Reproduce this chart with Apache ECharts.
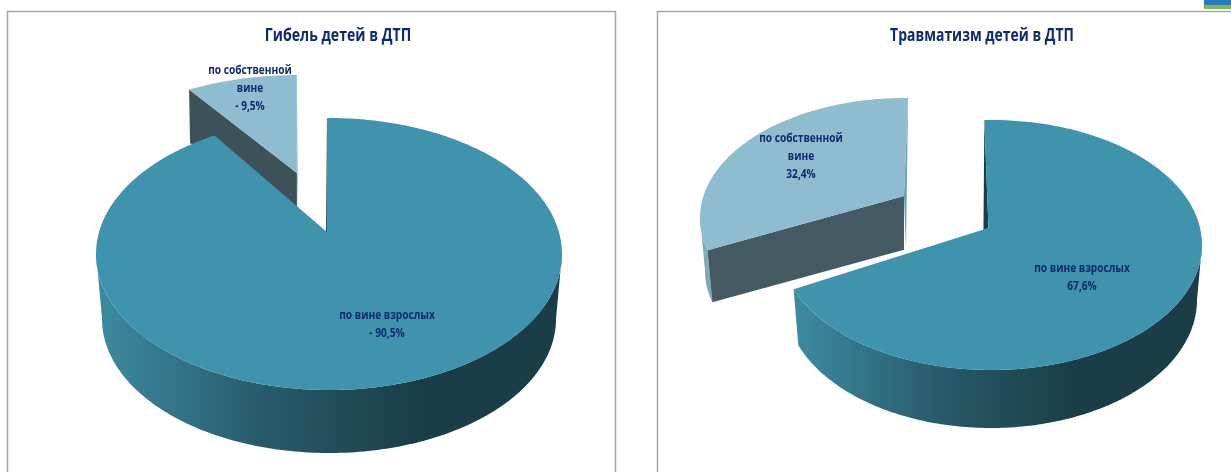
<!DOCTYPE html>
<html>
<head>
<meta charset="utf-8">
<style>
html, body { margin: 0; padding: 0; background: #fff; }
#main { width: 1231px; height: 472px; }
</style>
<script src="https://cdn.jsdelivr.net/npm/echarts@6/dist/echarts.min.js"></script>
</head>
<body>
<div id="main"></div>
<script>
// данные
var categories = ['по вине взрослых', 'по собственной вине'];
var deathValues = [90.5, 9.5];
var injuryValues = [67.6, 32.4];
var chartTitles = ['Гибель детей в ДТП', 'Травматизм детей в ДТП'];
var deathLabels = [['по вине взрослых', '- 90,5%'], ['по собственной', 'вине', '- 9,5%']];
var injuryLabels = [['по вине взрослых', '67,6%'], ['по собственной', 'вине', '32,4%']];

var TEXT_COLOR = '#0e2a6e';
var FONT = '"Open Sans", sans-serif';

// геометрия псевдо-3D: верхний и нижний эллипс, смещение вершины
var deathLayout = [
    { cx: 329, cy: 254, rx: 233, ry: 136, cx2: 329, cy2: 319, rx2: 227, ry2: 134, apexY: -0.162, apexX: -0.009, tilt: 0,
      top: '#4093ad', cut: '#1a3d47', shift: -1, grad: [96, 420], label: [387, 315] },
    { cx: 298, cy: 195, rx: 228, ry: 120, cx2: 298, cy2: 245, rx2: 226, ry2: 116, apexY: -0.183, apexX: -0.005, tilt: 0,
      top: '#8fbdd0', cut: '#3d5159', wall: '#7fa9b8', shift: 1, label: [250, 70] }
];
var injuryLayout = [
    { cx: 991, cy: 245, rx: 211, ry: 125, cx2: 991, cy2: 300, rx2: 206, ry2: 128, apexY: -0.136, apexX: -0.012, tilt: -1.3,
      top: '#4093ad', cut: '#1a3d47', shift: -5, grad: [795, 1075], label: [1082, 268] },
    { cx: 905, cy: 218, rx: 205, ry: 120, cx2: 905, cy2: 271, rx2: 200, ry2: 116, apexY: -0.183, apexX: -0.005, tilt: 1.4,
      top: '#8fbdd0', cut: '#435a62', wall: '#7fa9b8', shift: 2, label: [801, 138] }
];

// точка на единичном круге по лучу из вершины, угол по часовой от верха
function rimPoint(deg, l) {
    var a = (deg + l.tilt) * Math.PI / 180;
    var dx = Math.sin(a), dy = -Math.cos(a);
    var b = l.apexX * dx + l.apexY * dy;
    var c = l.apexX * l.apexX + l.apexY * l.apexY - 1;
    var t = -b + Math.sqrt(b * b - c);
    return [l.apexX + t * dx, l.apexY + t * dy];
}
function topXY(p, l) { return [l.cx + l.rx * p[0], l.cy + l.ry * p[1]]; }
function botXY(p, l) { return [l.cx2 + l.rx2 * p[0], l.cy2 + l.ry2 * p[1]]; }

// узкий текст: Calibri нет, сжимаем Open Sans
function narrowText(str, x, y, size, scale) {
    return {
        type: 'text',
        x: x,
        y: y,
        scaleX: scale,
        style: {
            x: 0,
            y: 0,
            text: str,
            fill: TEXT_COLOR,
            font: 'bold ' + size + 'px ' + FONT,
            align: 'center',
            verticalAlign: 'middle'
        }
    };
}

function makeItem(values, layouts, labels, idx) {
    return function (params, api) {
        var l = layouts[idx];
        var total = values[0] + values[1];
        var start = 0;
        for (var k = 0; k < idx; k++) start += values[k];
        var a0 = start / total * 360;
        var a1 = a0 + api.value(0) / total * 360;

        var rim = [];
        for (var d = a0; d < a1; d += 1) {
            rim.push(rimPoint(d, l));
        }
        rim.push(rimPoint(a1, l));
        var topRim = rim.map(function (p) { return topXY(p, l); });
        var botRim = rim.map(function (p) { return botXY(p, l); });

        // передняя часть стенки: только нижняя половина эллипса
        var front = rim.filter(function (p) { return p[1] >= -0.01; });
        var frontTop = front.map(function (p) { return topXY(p, l); });
        var frontBot = front.map(function (p) { return botXY(p, l); });

        var A = topXY([l.apexX, l.apexY], l);
        var B = botXY([l.apexX, l.apexY], l);
        var first = topRim[0], last = topRim[topRim.length - 1];
        var children = [];

        // внешняя стенка
        var wallFill = l.wall || new echarts.graphic.LinearGradient(l.grad[0], 0, l.grad[1], 0, [
            { offset: 0, color: '#3d8ba1' },
            { offset: 0.5, color: '#285c6b' },
            { offset: 1, color: '#1a3d47' }
        ], true);
        if (front.length > 1) {
            children.push({
                type: 'polygon',
                shape: { points: frontTop.concat(frontBot.slice().reverse()) },
                style: { fill: wallFill }
            });
        }
        // срез и кромка
        if (l.wall) {
            children.push({
                type: 'polygon',
                shape: { points: [last, [B[0] + l.shift, B[1]], A] },
                style: { fill: '#6f9fb2' }
            });
            children.push({
                type: 'polygon',
                shape: { points: [A, first, botRim[0], B] },
                style: { fill: l.cut }
            });
        } else {
            children.push({
                type: 'polygon',
                shape: { points: [first, [A[0] + l.shift, A[1] + 2], A] },
                style: { fill: l.cut }
            });
        }
        // верхняя грань
        children.push({
            type: 'polygon',
            shape: { points: [A].concat(topRim) },
            style: { fill: l.top }
        });
        // подпись
        var lines = labels[idx];
        for (var i = 0; i < lines.length; i++) {
            children.push(narrowText(lines[i], l.label[0], l.label[1] + i * 18, 13, 0.78));
        }
        return { type: 'group', children: children };
    };
}

// светлый сектор рисуем первым, чтобы большой его перекрывал
function pieSeries(name, values, layouts, labels) {
    return [1, 0].map(function (i) {
        return {
            type: 'custom',
            name: name + ' ' + categories[i],
            coordinateSystem: 'none',
            silent: true,
            animation: false,
            data: [[values[i]]],
            renderItem: makeItem(values, layouts, labels, i)
        };
    });
}

var chart = echarts.init(document.getElementById('main'));
var option = {
    backgroundColor: '#fff',
    animation: false,
    graphic: [
        { type: 'rect', z: -1, shape: { x: 7.5, y: 11.5, width: 608, height: 480 }, style: { fill: '#fff', stroke: '#a6a6a6', lineWidth: 1.5 } },
        { type: 'rect', z: -1, shape: { x: 657.5, y: 11.5, width: 600, height: 480 }, style: { fill: '#fff', stroke: '#a6a6a6', lineWidth: 1.5 } },
        { type: 'rect', shape: { x: 1204, y: 0, width: 27, height: 5 }, style: { fill: '#2a7ab8' } },
        { type: 'rect', shape: { x: 1204, y: 5, width: 27, height: 4 }, style: { fill: '#7ab85a' } },
        narrowText(chartTitles[0], 338, 36, 17, 0.83),
        narrowText(chartTitles[1], 982, 36, 17, 0.82)
    ],
    series: pieSeries('Гибель', deathValues, deathLayout, deathLabels)
        .concat(pieSeries('Травматизм', injuryValues, injuryLayout, injuryLabels))
};
chart.setOption(option);
</script>
</body>
</html>
